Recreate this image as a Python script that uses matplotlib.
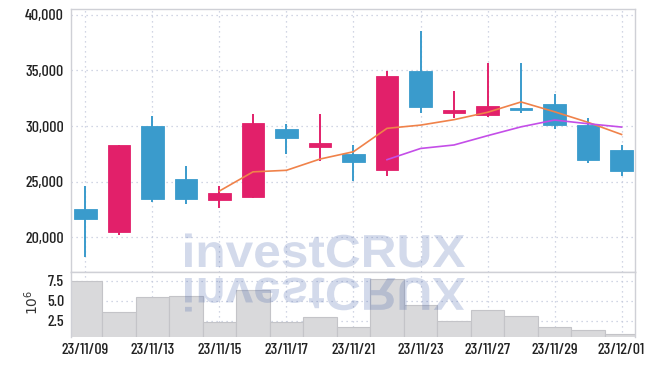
import matplotlib
matplotlib.use("Agg")
import matplotlib.pyplot as plt
import numpy as np
import pandas as pd
from matplotlib.ticker import FuncFormatter, FixedLocator
from matplotlib.textpath import TextPath
from matplotlib.font_manager import FontProperties
from matplotlib.patches import PathPatch
from matplotlib.transforms import Affine2D

# 일봉 데이터
dates = ["23/11/09", "23/11/10", "23/11/13", "23/11/14", "23/11/15", "23/11/16",
         "23/11/17", "23/11/20", "23/11/21", "23/11/22", "23/11/23", "23/11/24",
         "23/11/27", "23/11/28", "23/11/29", "23/11/30", "23/12/01"]
opens = [22550, 20500, 30000, 25250, 23350, 23600, 29750, 28150, 27450,
         26050, 34950, 31200, 31000, 31600, 31950, 30050, 27850]
highs = [24650, 28250, 30900, 26400, 24650, 31050, 30150, 31050, 28250,
         34950, 38550, 33150, 35700, 35700, 32900, 30700, 28250]
lows = [18200, 20250, 23200, 22950, 22600, 23550, 27450, 26900, 25100,
        25550, 31200, 30700, 30800, 31200, 29750, 26700, 25550]
closes = [21650, 28250, 23450, 23450, 24000, 30250, 28950, 28500, 26750,
          34500, 31700, 31400, 31800, 31400, 30100, 26950, 25950]
volumes = [7.46, 3.55, 5.43, 5.59, 2.34, 6.34, 2.34, 2.93, 1.68,
           7.80, 4.46, 2.43, 3.80, 3.05, 1.68, 1.30, 0.80]  # 단위: 10^6

UP = "#e2206a"
DOWN = "#3a9bcc"
GRID = "#c2c9dc"
SPINE = "#cfd0d6"
TXT = "#222222"

df = pd.DataFrame({"open": opens, "high": highs, "low": lows,
                   "close": closes, "volume": volumes})
df["ma5"] = df["close"].rolling(5).mean()
df["ma10"] = df["close"].rolling(10).mean()
x = np.arange(len(df))
up = df["close"] >= df["open"]
colors = np.where(up, UP, DOWN)

plt.rcParams["font.family"] = ["Barlow Condensed", "Archivo Narrow", "DejaVu Sans"]
plt.rcParams["font.weight"] = 500

fig = plt.figure(figsize=(6.54, 3.66), dpi=100)
W, H = 654, 366
ax = fig.add_axes([71 / W, 1 - 272.3 / H, (635.3 - 71) / W, (272.3 - 9.3) / H])
axv = fig.add_axes([71 / W, 1 - 337.3 / H, (635.3 - 71) / W, (337.3 - 272.3) / H], sharex=ax)

# 캔들
ax.vlines(x, df["low"], df["high"], colors=colors, linewidth=1.4, zorder=2)
body_bottom = np.minimum(df["open"], df["close"])
body_h = np.maximum((df["close"] - df["open"]).abs(), 120)
ax.bar(x, body_h, bottom=body_bottom, width=0.68, color=colors,
       edgecolor=colors, linewidth=0.6, zorder=3)

# 이동평균선
ax.plot(x, df["ma5"], color="#f0824a", linewidth=1.2, zorder=4)
ax.plot(x, df["ma10"], color="#c44ee8", linewidth=1.2, zorder=4)

ax.set_xlim(-0.43, 16.41)
ax.set_ylim(16855, 40486)
ax.yaxis.set_major_locator(FixedLocator([20000, 25000, 30000, 35000, 40000]))
ax.yaxis.set_major_formatter(FuncFormatter(lambda v, p: f"{int(v):,}"))

# 거래량
axv.bar(x, df["volume"], width=1.0, color="#d9d9db", edgecolor="#c4c4c8",
        linewidth=0.8, zorder=2)
axv.set_ylim(0.42, 8.58)
axv.yaxis.set_major_locator(FixedLocator([2.5, 5.0, 7.5]))
axv.yaxis.set_major_formatter(FuncFormatter(lambda v, p: f"{v:.1f}"))
axv.set_xticks(x[::2])
axv.set_xticklabels(dates[::2])

for a in (ax, axv):
    a.grid(True, linestyle=(0, (1, 3)), color=GRID, linewidth=0.9, zorder=0)
    a.set_axisbelow(True)
    a.tick_params(length=0, labelsize=11.5, colors=TXT, pad=5)
    for s in a.spines.values():
        s.set_color(SPINE)
        s.set_linewidth(1.0)
ax.tick_params(labelbottom=False)
axv.spines["bottom"].set_visible(False)
axv.tick_params(axis="x", pad=4)

fig.text(32 / W, 1 - 302 / H, r"$10^6$", rotation=90, ha="center", va="center",
         fontsize=10, color="#333333", family=["DejaVu Sans"])

# 워터마크 (반사 포함)
tp = TextPath((0, 0), "investCRUX", size=100,
              prop=FontProperties(family="Liberation Sans", weight="bold"))
ext = tp.get_extents()
sx = 280 / ext.width
sy = 34 / ext.height
t_main = Affine2D().translate(-ext.x0, 0).scale(sx, sy).translate(185, H - 267)
t_refl = Affine2D().translate(-ext.x0, 0).scale(sx, -sy).translate(185, H - 278)
for tr in (t_main, t_refl):
    fig.add_artist(PathPatch(tp, transform=tr, facecolor="#3a5aa8",
                             edgecolor="none", alpha=0.22, zorder=5))

fig.savefig("out.png", dpi=100)
